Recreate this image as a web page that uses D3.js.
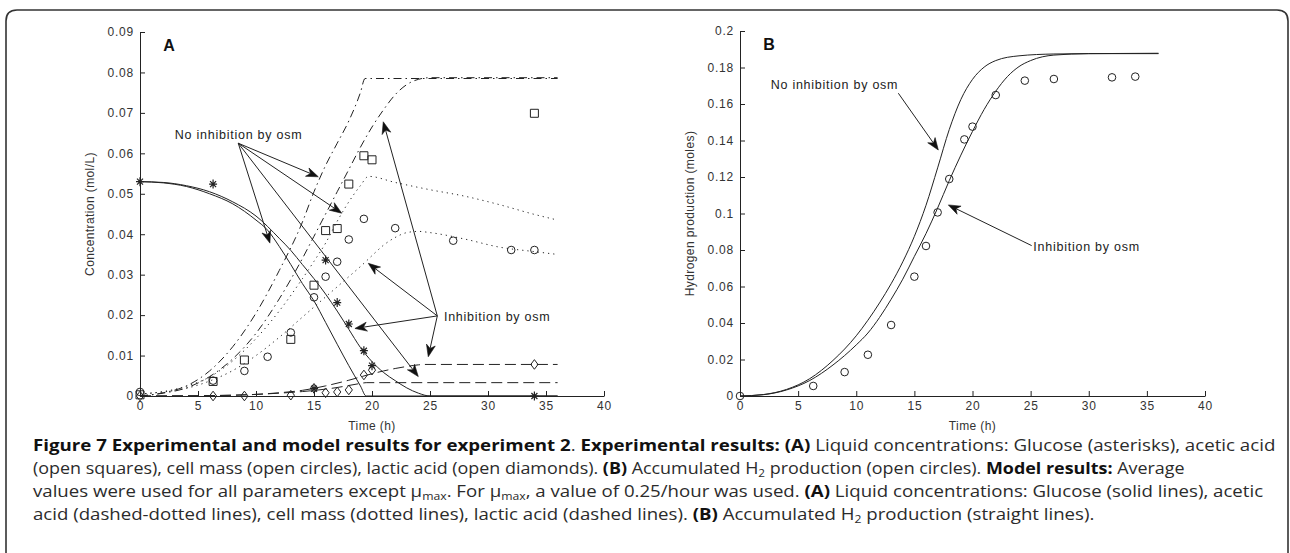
<!DOCTYPE html>
<html>
<head>
<meta charset="utf-8">
<script src="https://cdn.jsdelivr.net/npm/d3@7"></script>
<style>
  body { margin: 0; background: #fff; }
  svg { display: block; }
</style>
</head>
<body>
<script>
// ---------- data ----------

var xTicks = [0, 5, 10, 15, 20, 25, 30, 35, 40];
var yTicksA = [0, 0.01, 0.02, 0.03, 0.04, 0.05, 0.06, 0.07, 0.08, 0.09];
var yTicksB = [0, 0.02, 0.04, 0.06, 0.08, 0.1, 0.12, 0.14, 0.16, 0.18, 0.2];

// panel A, experimental points
var glucoseT = [0, 6.3, 15, 16, 17, 18, 19.3, 20, 34];
var glucoseV = [0.053, 0.0524, 0.0018, 0.0336, 0.0231, 0.0178, 0.0112, 0.0075, 0];
var aceticT = [0, 6.3, 9, 13, 15, 16, 17, 18, 19.3, 20, 34];
var aceticV = [0.0003, 0.0036, 0.0089, 0.014, 0.0274, 0.0409, 0.0414, 0.0524, 0.0594, 0.0584, 0.0699];
var cellT = [0, 6.3, 9, 11, 13, 15, 16, 17, 18, 19.3, 22, 27, 32, 34];
var cellV = [0.001, 0.0038, 0.0062, 0.0097, 0.0157, 0.0244, 0.0295, 0.0332, 0.0387, 0.0438, 0.0415, 0.0384, 0.0361, 0.0361];
var lacticT = [0, 6.3, 9, 13, 15, 16, 17, 18, 19.3, 20, 34];
var lacticV = [0, 0, 0, 0.0002, 0.0019, 0.0008, 0.001, 0.0015, 0.0052, 0.0064, 0.0078];

// panel A, model curves (1 = no inhibition, 2 = inhibition by osm)
var gluT1 = [0, 2, 4, 6, 8, 10, 11, 12, 13, 14, 15, 16, 17, 18, 19, 19.5, 20, 36];
var gluV1 = [0.053, 0.0527, 0.0518, 0.05, 0.0475, 0.0435, 0.041, 0.037, 0.0325, 0.0278, 0.0235, 0.0182, 0.0128, 0.0075, 0.0025, 0, 0, 0];
var gluT2 = [0, 2, 4, 6, 8, 10, 12, 13, 14, 15, 16, 17, 18, 19, 20, 21, 22, 23, 24, 25, 36];
var gluV2 = [0.053, 0.0528, 0.052, 0.0505, 0.048, 0.0445, 0.039, 0.036, 0.0325, 0.029, 0.0252, 0.021, 0.0165, 0.012, 0.0085, 0.0058, 0.0038, 0.002, 0.0007, 0, 0];

var acT1 = [0, 2, 4, 6, 8, 10, 12, 14, 15, 16, 17, 18, 19, 19.4, 36];
var acV1 = [0, 0.0008, 0.0025, 0.0062, 0.0122, 0.0205, 0.031, 0.043, 0.0505, 0.057, 0.0625, 0.068, 0.075, 0.0785, 0.0785];
var acT2 = [0, 2, 4, 6, 8, 10, 12, 14, 15, 16, 17, 18, 19, 20, 21, 22, 23, 24, 25, 36];
var acV2 = [0, 0.0007, 0.002, 0.0048, 0.0092, 0.0155, 0.024, 0.034, 0.0395, 0.045, 0.0505, 0.056, 0.0615, 0.0665, 0.0708, 0.0745, 0.077, 0.0783, 0.0787, 0.0787];

var cmT1 = [0, 2, 4, 6, 8, 10, 12, 14, 15, 16, 17, 18, 19, 19.7, 22, 25, 28, 31, 34, 36];
var cmV1 = [0.0005, 0.0011, 0.0024, 0.0047, 0.0087, 0.0142, 0.021, 0.029, 0.0333, 0.0378, 0.0432, 0.048, 0.052, 0.0543, 0.0528, 0.051, 0.0494, 0.0473, 0.0449, 0.0435];
var cmT2 = [0, 2, 4, 6, 8, 10, 12, 14, 16, 17, 18, 19, 20, 21, 22, 23, 24, 25, 28, 31, 34, 36];
var cmV2 = [0.0005, 0.001, 0.0019, 0.0037, 0.0063, 0.01, 0.0145, 0.0195, 0.0245, 0.027, 0.0295, 0.032, 0.0347, 0.0373, 0.0392, 0.0404, 0.0407, 0.0404, 0.0388, 0.0368, 0.0357, 0.035];

var laT1 = [0, 6, 10, 12, 14, 16, 17, 18, 19, 19.5, 36];
var laV1 = [0, 0.0001, 0.0004, 0.0007, 0.0011, 0.0017, 0.0021, 0.0026, 0.0031, 0.0033, 0.0033];
var laT2 = [0, 6, 10, 12, 14, 16, 18, 20, 21, 22, 23, 24, 24.5, 36];
var laV2 = [0, 0.0001, 0.0004, 0.0008, 0.0014, 0.0025, 0.0039, 0.0055, 0.0062, 0.0068, 0.0073, 0.0077, 0.0078, 0.0078];

// panel B, experimental points and model curves
var h2T = [0, 6.3, 9, 11, 13, 15, 16, 17, 18, 19.3, 20, 22, 24.5, 27, 32, 34];
var h2V = [0, 0.0055, 0.0131, 0.0226, 0.0389, 0.0654, 0.0822, 0.1006, 0.1189, 0.1406, 0.1476, 0.1649, 0.1728, 0.1737, 0.1746, 0.175];
var h2T1 = [0, 2, 4, 6, 8, 10, 11, 12, 13, 14, 15, 16, 17, 18, 19, 20, 21, 22, 24, 27, 30, 36];
var h2V1 = [0, 0.0008, 0.0036, 0.0095, 0.0195, 0.033, 0.0415, 0.051, 0.0615, 0.0735, 0.0875, 0.1045, 0.125, 0.146, 0.1625, 0.1735, 0.1802, 0.1838, 0.1864, 0.1874, 0.1876, 0.1876];
var h2T2 = [0, 2, 4, 6, 8, 10, 11, 12, 13, 14, 15, 16, 17, 18, 19, 20, 21, 22, 23, 24, 25, 27, 30, 36];
var h2V2 = [0, 0.0007, 0.0033, 0.0085, 0.017, 0.028, 0.0345, 0.043, 0.053, 0.064, 0.0765, 0.089, 0.103, 0.118, 0.132, 0.145, 0.157, 0.167, 0.175, 0.1805, 0.1838, 0.1868, 0.1876, 0.1878];

// annotation arrows, in data units: [fromT, fromV, toT, toV]
var arrowsNoInhA = [[8.47, 0.0625, 15.37, 0.0542], [8.47, 0.0625, 17.39, 0.0452], [8.47, 0.0625, 23.99, 0.0048], [8.47, 0.0625, 11.2, 0.0378]];
var arrowsInhA = [[25.63, 0.0198, 20.97, 0.0678], [25.63, 0.0198, 19.68, 0.0328], [25.63, 0.0198, 18.53, 0.0167], [25.63, 0.0198, 24.85, 0.0097]];
var arrowsB = [[13.62, 0.1659, 17.06, 0.1348], [25.09, 0.0824, 17.92, 0.1047]];

// caption, one entry per line: [text, style]  (b = bold, s = subscript)
var captionLines = [
    [["Figure 7 Experimental and model results for experiment 2", "b"], [". ", ""], ["Experimental results: (A)", "b"], [" Liquid concentrations: Glucose (asterisks), acetic acid", ""]],
    [["(open squares), cell mass (open circles), lactic acid (open diamonds). ", ""], ["(B)", "b"], [" Accumulated H", ""], ["2", "s"], [" production (open circles). ", ""], ["Model results:", "b"], [" Average", ""]],
    [["values were used for all parameters except \u03bc", ""], ["max", "s"], [". For \u03bc", ""], ["max", "s"], [", a value of 0.25/hour was used. ", ""], ["(A)", "b"], [" Liquid concentrations: Glucose (solid lines), acetic", ""]],
    [["acid (dashed-dotted lines), cell mass (dotted lines), lactic acid (dashed lines). ", ""], ["(B)", "b"], [" Accumulated H", ""], ["2", "s"], [" production (straight lines).", ""]]
];

// ---------- drawing ----------

var width = 1290,
    height = 553;

var ink = "#222";
var axisFont = "'Liberation Sans', Arial, sans-serif";

var svg = d3.select("body")
    .append("svg")
    .attr("width", width)
    .attr("height", height);

// frame round the figure (open at the bottom)
svg.append("path")
    .attr("d", "M6,553 L6,21 Q6,10 17,10 L1277,10 Q1288,10 1288,21 L1288,553")
    .attr("fill", "none")
    .attr("stroke", "#333")
    .attr("stroke-width", 1.6);

function zip(t, v){
    return t.map(function(d, i){ return [d, v[i]]; });
}

function makePanel(x, y, yTicks, yTitle, letter){

    var g = svg.append("g");

    var fmt = function(d){ return d === 0 ? "0" : String(+d.toFixed(2)); };

    var xAxis = g.append("g")
        .attr("transform", "translate(0," + y.range()[0] + ")")
        .call(d3.axisBottom(x).tickValues(xTicks).tickSizeInner(-5).tickSizeOuter(0).tickPadding(5).tickFormat(fmt));

    var yAxis = g.append("g")
        .attr("transform", "translate(" + x.range()[0] + ",0)")
        .call(d3.axisLeft(y).tickValues(yTicks).tickSizeInner(-5).tickSizeOuter(0).tickPadding(6).tickFormat(fmt));

    [xAxis, yAxis].forEach(function(a){
        a.attr("color", ink)
            .attr("font-family", axisFont)
            .attr("font-size", 12);
        a.selectAll("text")
            .attr("fill", "#333")
            .attr("letter-spacing", 0.8);
    });

    // axis titles
    var xMid = (x.range()[0] + x.range()[1]) / 2;
    g.append("text")
        .attr("x", xMid)
        .attr("y", 430)
        .attr("text-anchor", "middle")
        .attr("font-family", axisFont)
        .attr("font-size", 12)
        .attr("letter-spacing", 0.4)
        .attr("fill", "#333")
        .text("Time (h)");

    var yMid = (y.range()[0] + y.range()[1]) / 2;
    g.append("text")
        .attr("transform", "translate(" + (x.range()[0] - 46) + "," + yMid + ") rotate(-90)")
        .attr("text-anchor", "middle")
        .attr("font-family", axisFont)
        .attr("font-size", 12)
        .attr("letter-spacing", 0.4)
        .attr("fill", "#333")
        .text(yTitle);

    g.append("text")
        .attr("x", x(2.0))
        .attr("y", y.range()[1] + 19)
        .attr("font-family", axisFont)
        .attr("font-weight", "bold")
        .attr("font-size", 16)
        .attr("fill", "#111")
        .text(letter);

    return g;
}

function drawCurve(g, x, y, t, v, dash){
    var line = d3.line()
        .x(function(d){ return x(d[0]); })
        .y(function(d){ return y(d[1]); })
        .curve(d3.curveMonotoneX);

    g.append("path")
        .datum(zip(t, v))
        .attr("d", line)
        .attr("fill", "none")
        .attr("stroke", ink)
        .attr("stroke-width", 1)
        .attr("stroke-dasharray", dash);
}

function drawMarkers(g, x, y, t, v, kind){
    var pts = g.selectAll(null)
        .data(zip(t, v))
        .enter()
        .append("path")
        .attr("transform", function(d){ return "translate(" + x(d[0]) + "," + y(d[1]) + ")"; })
        .attr("fill", "none")
        .attr("stroke", ink)
        .attr("stroke-width", 1);

    if (kind === "circle"){
        pts.attr("d", "M3.8,0 A3.8,3.8 0 1,1 -3.8,0 A3.8,3.8 0 1,1 3.8,0Z");
    } else if (kind === "square"){
        pts.attr("d", "M-4,-4 H4 V4 H-4Z");
    } else if (kind === "diamond"){
        pts.attr("d", "M0,-4.8 L3.6,0 L0,4.8 L-3.6,0Z");
    } else {
        pts.attr("d", "M-4,0 H4 M0,-4.5 V4.5 M-3,-3 L3,3 M-3,3 L3,-3")
            .attr("stroke-width", 1.2);
    }
}

function drawArrow(g, x, y, a){
    var x0 = x(a[0]), y0 = y(a[1]), x1 = x(a[2]), y1 = y(a[3]);
    var dx = x1 - x0, dy = y1 - y0, len = Math.sqrt(dx * dx + dy * dy);
    var ux = dx / len, uy = dy / len, nx = -uy, ny = ux;
    var L = 12, w = 4.5, notch = 8.5;

    g.append("line")
        .attr("x1", x0).attr("y1", y0)
        .attr("x2", x1 - ux * notch).attr("y2", y1 - uy * notch)
        .attr("stroke", ink)
        .attr("stroke-width", 1);

    var bx = x1 - ux * L, by = y1 - uy * L;
    var head = [
        [x1, y1],
        [bx + nx * w, by + ny * w],
        [x1 - ux * notch, y1 - uy * notch],
        [bx - nx * w, by - ny * w]
    ];
    g.append("path")
        .attr("d", "M" + head.join("L") + "Z")
        .attr("fill", "#111")
        .attr("stroke", "#111")
        .attr("stroke-width", 0.6);
}

function note(g, px, py, str){
    g.append("text")
        .attr("x", px)
        .attr("y", py)
        .attr("font-family", axisFont)
        .attr("font-size", 12.5)
        .attr("letter-spacing", 0.75)
        .attr("fill", "#222")
        .text(str);
}

var dashDot = "8,4,1.5,4";
var dotted = "1.2,4";
var dashed = "11,5";

// ----- panel A -----
var xA = d3.scaleLinear().domain([0, 40]).range([140, 604]);
var yA = d3.scaleLinear().domain([0, 0.09]).range([396, 32]);
var gA = makePanel(xA, yA, yTicksA, "Concentration (mol/L)", "A");

drawCurve(gA, xA, yA, gluT1, gluV1, null);
drawCurve(gA, xA, yA, gluT2, gluV2, null);
drawCurve(gA, xA, yA, acT1, acV1, dashDot);
drawCurve(gA, xA, yA, acT2, acV2, dashDot);
drawCurve(gA, xA, yA, cmT1, cmV1, dotted);
drawCurve(gA, xA, yA, cmT2, cmV2, dotted);
drawCurve(gA, xA, yA, laT1, laV1, dashed);
drawCurve(gA, xA, yA, laT2, laV2, dashed);

drawMarkers(gA, xA, yA, glucoseT, glucoseV, "star");
drawMarkers(gA, xA, yA, aceticT, aceticV, "square");
drawMarkers(gA, xA, yA, cellT, cellV, "circle");
drawMarkers(gA, xA, yA, lacticT, lacticV, "diamond");

arrowsNoInhA.forEach(function(a){ drawArrow(gA, xA, yA, a); });
arrowsInhA.forEach(function(a){ drawArrow(gA, xA, yA, a); });
note(gA, xA(3.0), yA(0.0635), "No inhibition by osm");
note(gA, xA(26.2), yA(0.0185), "Inhibition by osm");

// ----- panel B -----
var xB = d3.scaleLinear().domain([0, 40]).range([740, 1205]);
var yB = d3.scaleLinear().domain([0, 0.2]).range([396, 31]);
var gB = makePanel(xB, yB, yTicksB, "Hydrogen production (moles)", "B");

drawCurve(gB, xB, yB, h2T1, h2V1, null);
drawCurve(gB, xB, yB, h2T2, h2V2, null);
drawMarkers(gB, xB, yB, h2T, h2V, "circle");

arrowsB.forEach(function(a){ drawArrow(gB, xB, yB, a); });
note(gB, xB(2.64), yB(0.168), "No inhibition by osm");
note(gB, xB(25.23), yB(0.0795), "Inhibition by osm");

// ----- caption -----
var capX = 33,
    capEnds = [1276, 1186, 1264, 1095],   // right end of each line in the figure
    capTop = 451,
    capStep = 23;

var capTexts = captionLines.map(function(segs, li){
    var t = svg.append("text")
        .attr("x", 0)
        .attr("y", 0)
        .attr("font-family", "'Open Sans', 'Noto Sans', sans-serif")
        .attr("font-size", 16)
        .attr("fill", "#2b2b2b");

    var shifted = false;
    segs.forEach(function(s){
        var ts = t.append("tspan").text(s[0]);
        if (s[1] === "b"){
            ts.attr("font-weight", "bold").attr("fill", "#111");
        }
        if (s[1] === "s"){
            ts.attr("font-size", 10.5).attr("dy", 2.5);
            shifted = true;
        } else if (shifted){
            ts.attr("dy", -2.5);
            shifted = false;
        }
    });
    return t;
});

// squeeze each line horizontally so it ends where the printed line ends
capTexts.forEach(function(t, li){
    var natural = t.node().getComputedTextLength();
    var squeeze = (capEnds[li] - capX) / natural;
    t.attr("transform", "translate(" + capX + "," + (capTop + li * capStep) + ") scale(" + squeeze + ",1)");
});
</script>
</body>
</html>
